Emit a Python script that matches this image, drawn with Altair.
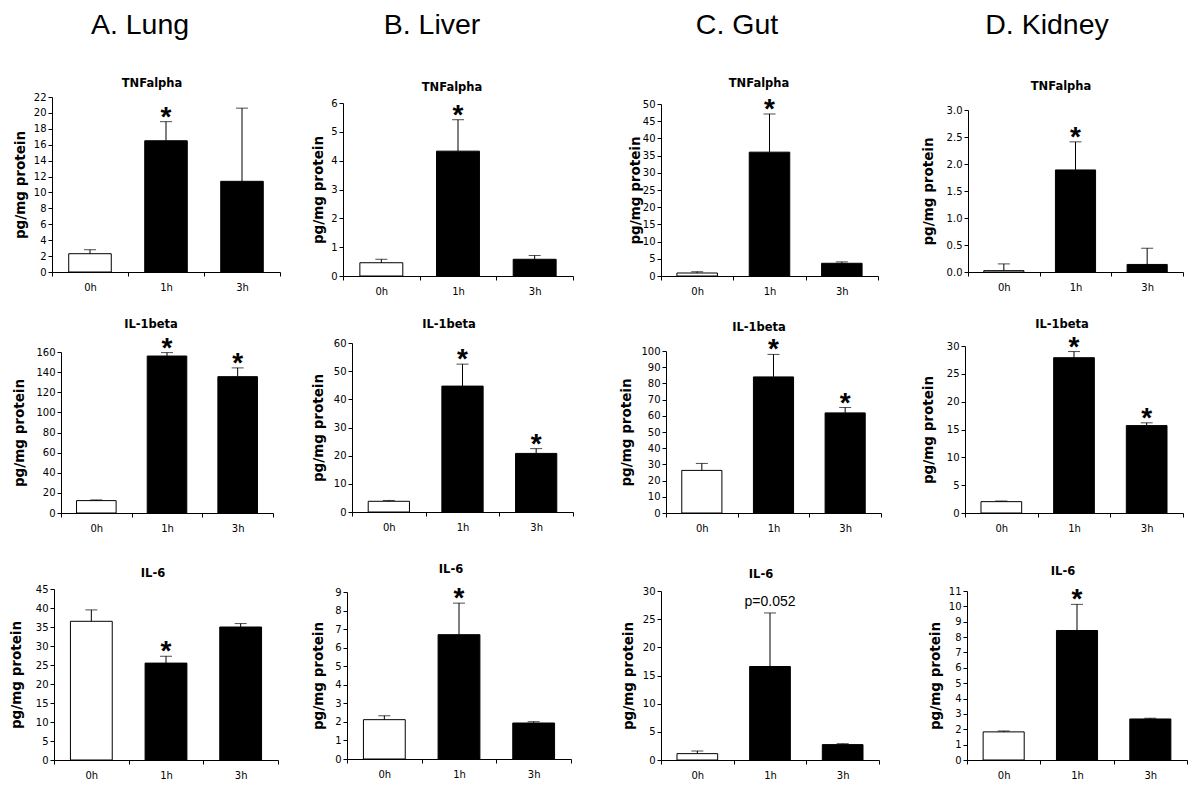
import altair as alt
import pandas as pd

# ---------------- data ----------------
times = ["0h", "1h", "3h"]
organs = ["A. Lung", "B. Liver", "C. Gut", "D. Kidney"]
cytokines = ["TNFalpha", "IL-1beta", "IL-6"]

# one list per organ (Lung, Liver, Gut, Kidney), values for 0h, 1h, 3h
tnf_mean = [[2.3, 16.5, 11.4], [0.46, 4.33, 0.58], [0.87, 36.0, 3.7], [0.025, 1.89, 0.14]]
tnf_err = [[0.5, 2.4, 9.2], [0.12, 1.09, 0.13], [0.39, 11.1, 0.4], [0.125, 0.52, 0.30]]
tnf_ann = [["", "*", ""], ["", "*", ""], ["", "*", ""], ["", "*", ""]]

il1_mean = [[12.3, 156.0, 135.5], [3.8, 44.7, 20.8], [26.3, 84.0, 61.8], [2.04, 27.9, 15.7]]
il1_err = [[0.7, 3.4, 8.7], [0.3, 7.8, 1.7], [4.3, 13.9, 3.3], [0.11, 1.1, 0.5]]
il1_ann = [["", "*", "*"], ["", "*", "*"], ["", "*", "*"], ["", "*", "*"]]

il6_mean = [[36.5, 25.5, 35.0], [2.12, 6.70, 1.94], [1.13, 16.6, 2.73], [1.83, 8.43, 2.67]]
il6_err = [[3.0, 1.8, 0.9], [0.21, 1.70, 0.07], [0.47, 9.5, 0.17], [0.06, 1.70, 0.05]]
il6_ann = [["", "*", ""], ["", "*", ""], ["", "p=0.052", ""], ["", "*", ""]]

y_max = [[22, 6, 50, 3.0], [160, 60, 100, 30], [45, 9, 30, 11]]
y_step = [[2, 1, 5, 0.5], [20, 10, 10, 5], [5, 1, 5, 1]]

means = [tnf_mean, il1_mean, il6_mean]
errs = [tnf_err, il1_err, il6_err]
anns = [tnf_ann, il1_ann, il6_ann]

# ---------------- layout (page pixels) ----------------
lead_w = 44
head_h = 89
col_x = [52, 343, 661, 965]
col_w = [291, 318, 304, 222]
row_y = [97, 343, 589]
row_h = [246, 246, 171]

# plot box of each panel: (left, right, top, bottom)
boxes = [
    [(52, 280, 97, 272), (343, 573, 103, 276), (661, 878, 104, 276), (968, 1183, 110, 272)],
    [(61, 273, 352, 513), (352, 573, 343, 512), (666, 881, 351, 513), (965, 1183, 346, 513)],
    [(54, 278, 589, 760), (347, 571, 592, 759), (661, 879, 591, 760), (967, 1187, 591, 760)],
]
title_cx = [[152, 452, 759, 1061], [151, 449, 759, 1062], [153, 451, 761, 1063]]
title_off = [[-3, -2, 0, -1], [-2, 2, -3, -3], [-1, 4, 0, 3]]
ytitle_x = [[20, 318, 635, 928], [19, 318, 626, 928], [16, 318, 628, 935]]
head_cx = [140, 432, 737, 1047]
head_base = 34

FONT = "DejaVu Sans"


def panel(r, c):
    a, b, top, bot = boxes[r][c]
    gx, gy, W, H = col_x[c], row_y[r], col_w[c], row_h[r]
    df = pd.DataFrame({"t": times, "value": means[r][c], "err": errs[r][c], "ann": anns[r][c]})
    df["top"] = df["value"] + df["err"]
    ymax = y_max[r][c]
    step = y_step[r][c]
    n = int(round(ymax / step))
    ticks = [round(i * step, 3) for i in range(n + 1)]
    fmt = ".1f" if step < 1 else "d"

    xscale = alt.Scale(domain=times, range=[a - gx, b - gx], paddingInner=0, paddingOuter=0)
    yscale = alt.Scale(domain=[0, ymax], range=[bot - gy, top - gy], nice=False, zero=True)
    xaxis = alt.Axis(title=None, labelAngle=0, tickBand="extent",
                     offset=-(H - (bot - gy)), labelPadding=6)
    yaxis = alt.Axis(title="pg/mg protein", values=ticks, format=fmt,
                     offset=-(a - gx), titleX=ytitle_x[r][c] - a, titleAngle=270,
                     titleBaseline="middle", titleAlign="center")
    X = alt.X("t:N", scale=xscale, axis=xaxis, sort=times)

    def Y(field):
        return alt.Y(field, scale=yscale, axis=yaxis)

    base = alt.Chart(df)
    bars = base.mark_bar(width=alt.RelativeBandSize(0.56), stroke="black", strokeWidth=1).encode(
        x=X, y=Y("value:Q"),
        color=alt.Color("t:N", scale=alt.Scale(domain=times, range=["white", "black", "black"]), legend=None),
    )
    rule = base.mark_rule(color="black", strokeWidth=1).encode(x=X, y=Y("value:Q"), y2="top:Q")
    cap = base.mark_tick(color="black", thickness=1, size=12).encode(x=X, y=Y("top:Q"))
    star = base.transform_filter(alt.datum.ann == "*").mark_text(
        font="Liberation Sans", fontSize=28, fontWeight="bold", color="black",
        baseline="alphabetic", dy=4,
    ).encode(x=X, y=Y("top:Q"), text="ann:N")
    ptxt = base.transform_filter("indexof(datum.ann, 'p=') == 0").mark_text(
        font="Liberation Sans", fontSize=14, color="black", baseline="bottom", dy=-4,
    ).encode(x=X, y=Y("top:Q"), text="ann:N")

    title = alt.TitleParams(
        text=cytokines[r], frame="group", anchor="middle", baseline="middle",
        dx=title_cx[r][c] - (gx + W / 2), offset=title_off[r][c],
        font=FONT, fontSize=11.5, fontWeight="bold", color="black",
    )
    return alt.layer(bars, rule, cap, star, ptxt).properties(width=W, height=H, title=title)


def header(c):
    dfh = pd.DataFrame({"h": [organs[c]]})
    return alt.Chart(dfh).mark_text(
        font="Liberation Sans", fontSize=28.5, color="black", baseline="alphabetic",
        dx=head_cx[c] - col_x[c] - col_w[c] / 2, dy=(head_base - 8) - head_h / 2,
    ).encode(text="h:N").properties(width=col_w[c], height=head_h)


def blank(h):
    return alt.Chart(pd.DataFrame({"h": [""]})).mark_text().encode(text="h:N").properties(
        width=lead_w, height=h)


cells = [blank(head_h)] + [header(c) for c in range(4)]
for r in range(3):
    cells.append(blank(row_h[r]))
    for c in range(4):
        cells.append(panel(r, c))

chart = alt.concat(*cells, columns=5, spacing=0, bounds="flush").properties(
    padding=0, background="white"
).configure_view(stroke=None).configure_axis(
    domainColor="black", tickColor="black", labelColor="black", titleColor="black",
    labelFont=FONT, titleFont=FONT, labelFontSize=10, titleFontSize=13.5,
    titleFontWeight="bold", grid=False, tickSize=4, domainWidth=1, tickWidth=1,
)

chart.save("out.html", embed_options={"renderer": "svg", "actions": False})
